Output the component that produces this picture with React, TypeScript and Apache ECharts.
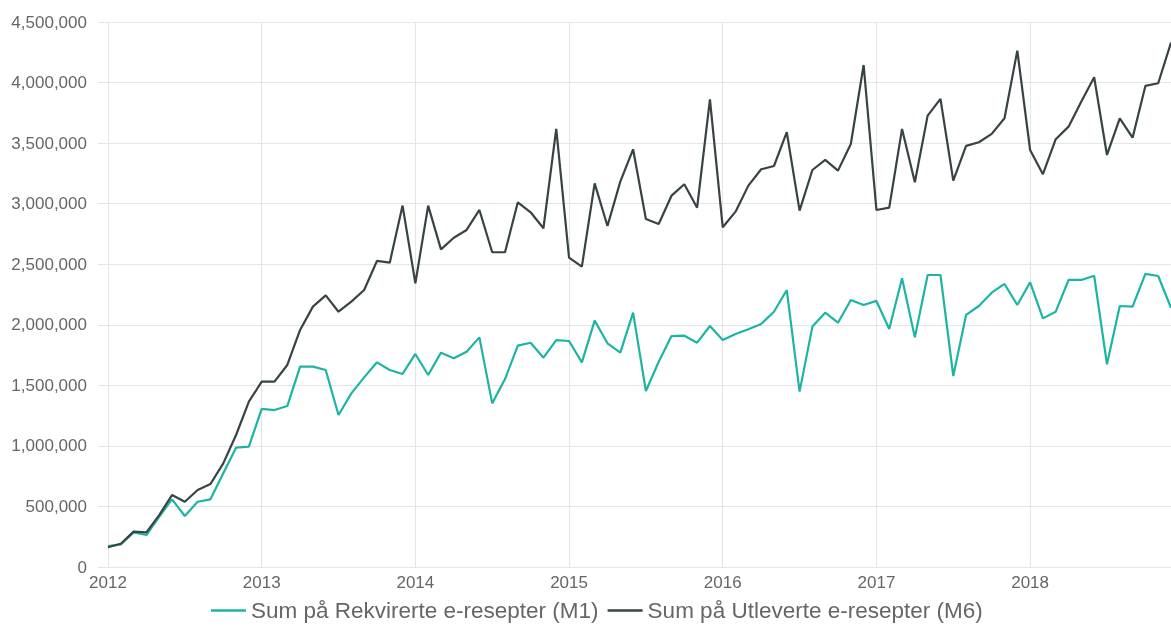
import React, { useEffect, useRef } from "react";
import * as echarts from "echarts";

const yearLabels = ["2012", "2013", "2014", "2015", "2016", "2017", "2018"];

const seriesNames = [
  "Sum på Rekvirerte e-resepter (M1)",
  "Sum på Utleverte e-resepter (M6)",
];

// Monthly values Jan 2012 .. Dec 2018 (thousands)
const rekvirerteK = [
  173, 187, 286, 264, 415, 559, 421, 539, 559, 774, 985, 994,
  1305, 1296, 1329, 1654, 1654, 1627, 1255, 1434, 1566, 1690, 1627, 1594,
  1759, 1585, 1770, 1723, 1778, 1896, 1351, 1552, 1828, 1852, 1728, 1874,
  1866, 1690, 2034, 1847, 1770, 2100, 1453, 1695, 1907, 1910, 1852, 1990,
  1874, 1924, 1963, 2007, 2108, 2287, 1448, 1985, 2100, 2017, 2205, 2163,
  2197, 1965, 2384, 1896, 2411, 2411, 1577, 2081, 2155, 2265, 2337, 2163,
  2351, 2053, 2108, 2370, 2370, 2405, 1674, 2155, 2150, 2420, 2403, 2140,
];

const utleverteK = [
  163, 192, 292, 286, 429, 594, 539, 636, 685, 856, 1090, 1365,
  1530, 1530, 1668, 1957, 2150, 2243, 2108, 2191, 2287, 2527, 2513, 2984,
  2343, 2984, 2623, 2719, 2783, 2948, 2599, 2599, 3011, 2929, 2797, 3617,
  2554, 2480, 3168, 2816, 3182, 3449, 2874, 2832, 3066, 3160, 2967, 3862,
  2805, 2934, 3149, 3284, 3311, 3590, 2943, 3278, 3361, 3273, 3493, 4145,
  2948, 2967, 3617, 3177, 3727, 3865, 3190, 3477, 3507, 3576, 3705, 4264,
  3443, 3243, 3532, 3636, 3843, 4044, 3402, 3705, 3545, 3972, 3994, 4330,
];

const colors = ["#1db5a2", "#374345"];

const yearTickIdx = yearLabels.map((_, i) => i * 12);

function toPairs(arr: number[]) {
  return arr.map((v, i) => [i, v * 1000]);
}

export default function App() {
  const ref = useRef<HTMLDivElement>(null);
  useEffect(() => {
    if (!ref.current) return;
    const chart = echarts.init(ref.current, undefined, { renderer: "svg" });
    const font = "'Liberation Sans', Arial, sans-serif";
    chart.setOption({
      animation: false,
      color: colors,
      textStyle: { fontFamily: font },
      grid: { left: 98, right: 0, top: 22, bottom: 61, containLabel: false },
      legend: {
        bottom: 1,
        left: 206,
        icon: "rect",
        itemWidth: 35,
        itemHeight: 2.5,
        itemGap: 9,
        textStyle: { fontSize: 22.5, color: "#666", fontFamily: font },
        data: seriesNames,
      },
      xAxis: {
        type: "value",
        min: -0.78,
        max: 83,
        axisLine: { show: false },
        axisTick: { show: false, customValues: yearTickIdx },
        axisLabel: {
          customValues: yearTickIdx,
          fontSize: 17,
          color: "#666",
          margin: 7,
          formatter: (v: number) => yearLabels[Math.round(v / 12)] ?? "",
        },
        splitLine: { show: true, lineStyle: { color: "#e5e5e5", width: 1 } },
      },
      yAxis: {
        type: "value",
        min: 0,
        max: 4500000,
        interval: 500000,
        axisLine: { show: false },
        axisTick: { show: false },
        axisLabel: {
          fontSize: 17,
          color: "#666",
          margin: 11,
          formatter: (v: number) => v.toLocaleString("en-US"),
        },
        splitLine: { lineStyle: { color: "#e5e5e5", width: 1 } },
      },
      series: [
        {
          name: seriesNames[0],
          type: "line",
          data: toPairs(rekvirerteK),
          showSymbol: false,
          lineStyle: { width: 2.2, color: colors[0] },
        },
        {
          name: seriesNames[1],
          type: "line",
          data: toPairs(utleverteK),
          showSymbol: false,
          lineStyle: { width: 2.2, color: colors[1] },
        },
      ],
    });
    return () => chart.dispose();
  }, []);
  return (
    <div
      ref={ref}
      style={{ position: "fixed", left: 0, top: 0, width: 1171, height: 628 }}
    />
  );
}
